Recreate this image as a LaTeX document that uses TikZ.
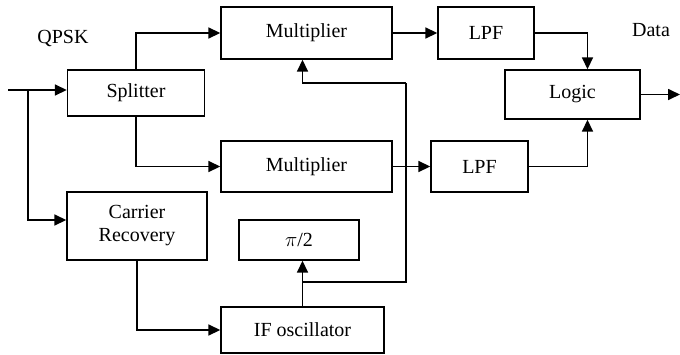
\documentclass[tikz,border=0pt]{standalone}
\usepackage{fontspec}
\setmainfont{Liberation Serif}
\usetikzlibrary{arrows.meta,calc}
\begin{document}
\begin{tikzpicture}[x=1pt,y=-1pt,
  blk/.style={draw,line width=1.4pt,inner sep=0pt,font=\fontsize{20}{23}\selectfont,align=center},
  arr/.style={line width=1.7pt,-{Triangle[length=12pt,width=11pt]}},
  ln/.style={line width=1.7pt},
  lbl/.style={font=\fontsize{20}{23}\selectfont}]
\useasboundingbox (0,0) rectangle (680,354);
\node[blk,minimum width=137pt,minimum height=46pt] (split) at (136,93) {Splitter};
\node[blk,minimum width=171pt,minimum height=52pt] (mult1) at (306.5,33) {Multiplier};
\node[blk,minimum width=96pt,minimum height=52pt] (lpf1) at (486,33) {LPF};
\node[blk,minimum width=135pt,minimum height=49pt] (logic) at (572.5,94.5) {Logic};
\node[blk,minimum width=171pt,minimum height=51pt] (mult2) at (306.5,166.5) {Multiplier};
\node[blk,minimum width=97pt,minimum height=51pt] (lpf2) at (479.5,166.5) {LPF};
\node[blk,minimum width=140pt,minimum height=68pt] (carr) at (137,226) {Carrier\\Recovery};
\node[blk,minimum width=120pt,minimum height=40pt] (pi) at (299,240) {$\pi$/2};
\node[blk,minimum width=163pt,minimum height=46pt] (ifo) at (302.5,330) {IF oscillator};
\node[lbl] (qpsk) at (63,38) {QPSK};
\node[lbl] (data) at (651,30) {Data};
\coordinate (in) at (8,90);
\coordinate (br) at (28,90);
\coordinate (out) at (680,89);
\coordinate (fbb) at (406,282);
\coordinate (fbt) at (406,83);
\draw[arr] (in) -- (split.west |- in);
\draw[arr] (br) |- ($(carr.west)+(0,-6)$);
\draw[arr] (split.north) |- (mult1.west);
\draw[arr] (split.south) |- (mult2.west);
\draw[arr] (mult1.east) -- (lpf1.west);
\draw[arr] (mult2.east) -- (lpf2.west);
\draw[arr] (lpf1.east) -| ([xshift=15pt]logic.north);
\draw[arr] (lpf2.east) -| ([xshift=15pt]logic.south);
\draw[arr] (logic.east) -- (logic.east -| out);
\draw[arr] (carr.south) |- (ifo.west);
\draw[arr] (ifo.north) -- (ifo.north |- pi.south);
\draw[ln] (ifo.north |- fbb) -- (fbb) -- (fbt);
\draw[arr] (fbt) -| (ifo.north |- mult1.south);
\end{tikzpicture}
\end{document}
